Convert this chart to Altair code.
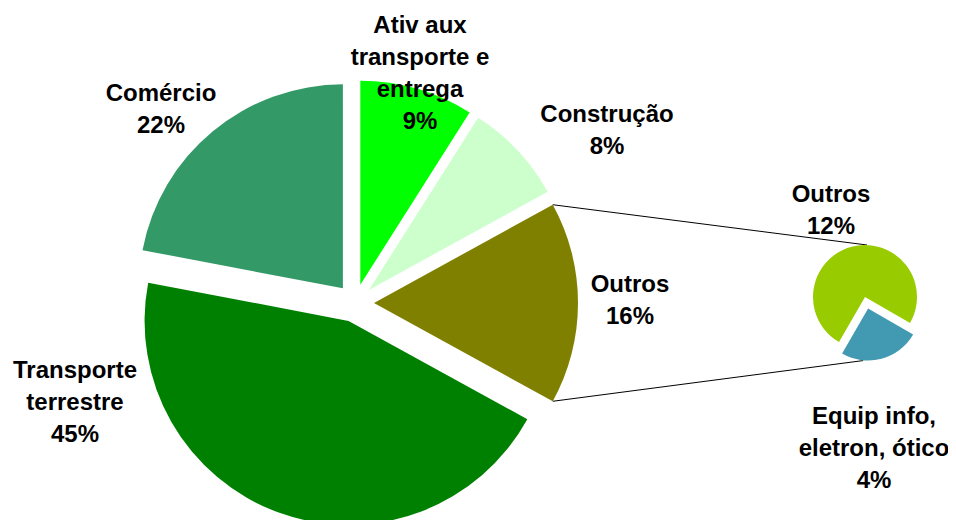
import math
import altair as alt
import pandas as pd

# ---------------- data ----------------
main_categories = ["Ativ aux\ntransporte e\nentrega", "Construção", "Outros",
                   "Transporte\nterrestre", "Comércio"]
main_values = [9, 8, 16, 45, 22]

sub_categories = ["Outros", "Equip info,\neletron, ótico"]
sub_values = [12, 4]

# ---------------- styles / layout ----------------
main_colors = ["#00FF00", "#CCFFCC", "#808000", "#008000", "#339966"]
sub_colors = ["#99CC00", "#4299B2"]

W, H = 940, 512
MAIN_CX, MAIN_CY, MAIN_R, MAIN_EXPLODE = 347, 295, 204, 19
MAIN_START = 0.0
SUB_CX, SUB_CY, SUB_R = 857, 289, 52
SUB_EXPLODE = [0, 12]
SUB_START = math.radians(210)

# label anchor (centre x, first baseline y) in chart pixels
main_label_pos = [(412, 25), (599, 114), (622, 284), (67, 370), (153, 93)]
sub_label_pos = [(823, 194), (866, 416)]

FONT = "Liberation Sans"
FS = 24
LH = 32

TWO_PI = 2 * math.pi


def pie_frame(cats, vals, explode):
    return pd.DataFrame({
        "cat": cats,
        "value": vals,
        "order": list(range(len(cats))),
        "explode": explode,
    })


def pie_layer(df, cx, cy, r, start, colors, suffix=""):
    total = float(df["value"].sum())
    return (
        alt.Chart(df)
        .transform_window(cum="sum(value)", sort=[alt.SortField("order")])
        .transform_calculate(
            c0="datum.cum - datum.value",
            c1="datum.cum",
            key=f"datum.cat + '{suffix}'",
        )
        .transform_calculate(
            mid=f"{start} + 2*PI*(datum.c0 + datum.value/2)/{total}",
        )
        .transform_calculate(
            px=f"{cx} + datum.explode*sin(datum.mid)",
            py=f"{cy} - datum.explode*cos(datum.mid)",
        )
        .mark_arc(radius=r, stroke=None)
        .encode(
            theta=alt.Theta("c0:Q", scale=alt.Scale(domain=[0, total], range=[start, start + TWO_PI])),
            theta2=alt.Theta2("c1:Q"),
            x=alt.X("px:Q", scale=None),
            y=alt.Y("py:Q", scale=None),
            color=alt.Color("key:N",
                            scale=alt.Scale(domain=[c + suffix for c in df["cat"]], range=colors),
                            legend=None),
        )
    )


main_df = pie_frame(main_categories, main_values, [MAIN_EXPLODE] * len(main_values))
sub_df = pie_frame(sub_categories, sub_values, SUB_EXPLODE)

main_pie = pie_layer(main_df, MAIN_CX, MAIN_CY, MAIN_R, MAIN_START, main_colors, "")
sub_pie = pie_layer(sub_df, SUB_CX, SUB_CY, SUB_R, SUB_START, sub_colors, " (sub)")

# labels
lab_rows = []
for cats, vals, pos in ((main_categories, main_values, main_label_pos),
                        (sub_categories, sub_values, sub_label_pos)):
    for c, v, (lx, ly) in zip(cats, vals, pos):
        lab_rows.append({"text": f"{c}\n{v}%", "lx": lx, "ly": ly})
lab_df = pd.DataFrame(lab_rows)

labels = alt.Chart(lab_df).mark_text(
    font=FONT, fontSize=FS, fontWeight="bold", color="black",
    align="center", baseline="alphabetic", lineBreak="\n", lineHeight=LH,
).encode(
    x=alt.X("lx:Q", scale=None),
    y=alt.Y("ly:Q", scale=None),
    text="text:N",
)

# connector lines (from the "Outros" slice's outer corners to the sub pie)
total_main = sum(main_values)
i_out = main_categories.index("Outros")
c0 = sum(main_values[:i_out])
a0 = MAIN_START + TWO_PI * c0 / total_main
a1 = MAIN_START + TWO_PI * (c0 + main_values[i_out]) / total_main
amid = (a0 + a1) / 2
vx = MAIN_CX + MAIN_EXPLODE * math.sin(amid)
vy = MAIN_CY - MAIN_EXPLODE * math.cos(amid)
p_top = (vx + MAIN_R * math.sin(a0), vy - MAIN_R * math.cos(a0))
p_bot = (vx + MAIN_R * math.sin(a1), vy - MAIN_R * math.cos(a1))

sub_total = sum(sub_values)
b_mid = SUB_START + TWO_PI * (sub_values[0] + sub_values[1] / 2) / sub_total
s_top = (SUB_CX + 2, SUB_CY - SUB_R)
s_bot = (SUB_CX + SUB_EXPLODE[1] * math.sin(b_mid) - 5,
         SUB_CY - SUB_EXPLODE[1] * math.cos(b_mid) + SUB_R)

lines_df = pd.DataFrame({
    "x": [p_top[0], p_bot[0]],
    "y": [p_top[1], p_bot[1]],
    "x2": [s_top[0], s_bot[0]],
    "y2": [s_top[1], s_bot[1]],
})
connectors = alt.Chart(lines_df).mark_rule(color="black", strokeWidth=1).encode(
    x=alt.X("x:Q", scale=None),
    y=alt.Y("y:Q", scale=None),
    x2="x2:Q",
    y2="y2:Q",
)

chart = (
    alt.layer(connectors, main_pie, sub_pie, labels)
    .resolve_scale(color="independent", theta="independent")
    .properties(width=W, height=H, padding=0, autosize=alt.AutoSizeParams(type="none"))
    .configure_view(stroke=None)
)

chart.save("out.html", embed_options={"renderer": "svg", "actions": False})
